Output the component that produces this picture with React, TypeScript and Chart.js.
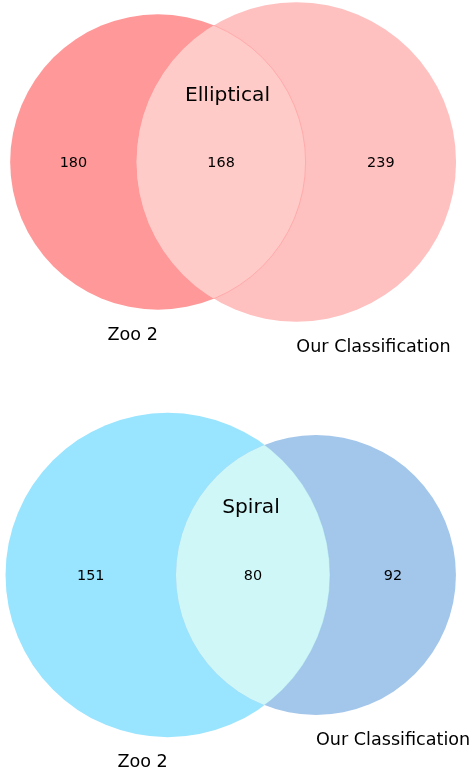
import { useEffect, useRef } from 'react';
import { Chart, registerables } from 'chart.js';

Chart.register(...registerables);

// ---- data ----
const diagramTitles = ['Elliptical', 'Spiral'];
const setLabels = ['Zoo 2', 'Our Classification'];
const zoo2Only = [180, 151];
const bothSets = [168, 80];
const oursOnly = [239, 92];

// ---- layout / style ----
const WIDTH = 469;
const HEIGHT = 771;
const PX_PER_UNIT = 340;
const ORIGINS = [
  [232.5 / PX_PER_UNIT, 162 / PX_PER_UNIT],
  [231 / PX_PER_UNIT, 575 / PX_PER_UNIT],
];
const TITLE_POS = [
  [227.5 / PX_PER_UNIT, 101 / PX_PER_UNIT],
  [251 / PX_PER_UNIT, 512.5 / PX_PER_UNIT],
];
const SET_LABEL_GAP = 30 / PX_PER_UNIT;
const COLORS = [
  { a: '#ff9999', b: '#ffc0c0', ab: '#ffcbc8', edge: 'rgba(255,150,150,0.55)' },
  { a: '#99e4ff', b: '#a3c6eb', ab: '#d0f7f7', edge: 'rgba(140,200,235,0.35)' },
];
const FONT = '"DejaVu Sans", "Liberation Sans", sans-serif';

function lensArea(r1: number, r2: number, d: number): number {
  if (d >= r1 + r2) return 0;
  if (d <= Math.abs(r1 - r2)) return Math.PI * Math.min(r1, r2) ** 2;
  const a1 = Math.acos((d * d + r1 * r1 - r2 * r2) / (2 * d * r1));
  const a2 = Math.acos((d * d + r2 * r2 - r1 * r1) / (2 * d * r2));
  const k = Math.sqrt((-d + r1 + r2) * (d + r1 - r2) * (d - r1 + r2) * (d + r1 + r2));
  return r1 * r1 * a1 + r2 * r2 * a2 - 0.5 * k;
}

function vennGeometry(i: number) {
  const total = zoo2Only[i] + bothSets[i] + oursOnly[i];
  const areaA = (zoo2Only[i] + bothSets[i]) / total;
  const areaB = (oursOnly[i] + bothSets[i]) / total;
  const areaAB = bothSets[i] / total;
  const rA = Math.sqrt(areaA / Math.PI);
  const rB = Math.sqrt(areaB / Math.PI);
  let lo = Math.abs(rA - rB);
  let hi = rA + rB;
  for (let k = 0; k < 80; k++) {
    const mid = (lo + hi) / 2;
    if (lensArea(rA, rB, mid) > areaAB) lo = mid;
    else hi = mid;
  }
  const d = (lo + hi) / 2;
  const wA = rA * rA;
  const wB = rB * rB;
  const [ox, oy] = ORIGINS[i];
  const xA = ox - (d * wB) / (wA + wB);
  const xB = ox + (d * wA) / (wA + wB);
  return { xA, xB, y: oy, rA, rB };
}

const vennPlugin = {
  id: 'venn',
  afterDatasetsDraw(chart: any) {
    const ctx: CanvasRenderingContext2D = chart.ctx;
    const sx = chart.scales.x;
    const sy = chart.scales.y;
    const px = (v: number) => sx.getPixelForValue(v);
    const py = (v: number) => sy.getPixelForValue(v);
    const len = (v: number) => Math.abs(sx.getPixelForValue(v) - sx.getPixelForValue(0));

    diagramTitles.forEach((title, i) => {
      const g = vennGeometry(i);
      const c = COLORS[i];
      const cAx = px(g.xA), cBx = px(g.xB), cy = py(g.y);
      const rA = len(g.rA), rB = len(g.rB);
      const circA = () => { ctx.beginPath(); ctx.arc(cAx, cy, rA, 0, Math.PI * 2); };
      const circB = () => { ctx.beginPath(); ctx.arc(cBx, cy, rB, 0, Math.PI * 2); };

      ctx.save();
      circA(); ctx.fillStyle = c.a; ctx.fill();
      circB(); ctx.fillStyle = c.b; ctx.fill();
      ctx.save();
      circA(); ctx.clip();
      circB(); ctx.fillStyle = c.ab; ctx.fill();
      ctx.restore();
      // faint edge of circle A inside B
      ctx.save();
      circB(); ctx.clip();
      circA(); ctx.strokeStyle = c.edge; ctx.lineWidth = 1; ctx.stroke();
      ctx.restore();
      ctx.restore();

      // region counts (matplotlib_venn positions)
      ctx.save();
      ctx.fillStyle = '#000';
      ctx.textAlign = 'center';
      ctx.textBaseline = 'alphabetic';
      const numSize = 14.4;
      ctx.font = `${numSize}px ${FONT}`;
      const base = cy + 0.3645 * numSize;
      const xa0 = g.xA - g.rA, xa1 = g.xA + g.rA;
      const xb0 = g.xB - g.rB, xb1 = g.xB + g.rB;
      ctx.fillText(String(zoo2Only[i]), px((xa0 + xb0) / 2), base);
      ctx.fillText(String(bothSets[i]), px((xb0 + xa1) / 2), base);
      ctx.fillText(String(oursOnly[i]), px((xa1 + xb1) / 2), base);

      // set labels
      ctx.font = `17.6px ${FONT}`;
      ctx.textAlign = 'right';
      ctx.fillText(setLabels[0], cAx, py(g.y + g.rA + SET_LABEL_GAP));
      ctx.textAlign = 'left';
      ctx.fillText(setLabels[1], cBx, py(g.y + g.rB + SET_LABEL_GAP));

      // title
      ctx.font = `20.2px ${FONT}`;
      ctx.textAlign = 'center';
      ctx.fillText(title, px(TITLE_POS[i][0]), py(TITLE_POS[i][1]));
      ctx.restore();
    });
  },
};

export default function App() {
  const canvasRef = useRef<HTMLCanvasElement | null>(null);

  useEffect(() => {
    if (!canvasRef.current) return;
    const chart = new Chart(canvasRef.current, {
      type: 'scatter',
      data: { datasets: [{ data: [], pointRadius: 0 }] },
      options: {
        animation: false,
        responsive: true,
        maintainAspectRatio: false,
        layout: { padding: 0 },
        plugins: { legend: { display: false }, title: { display: false }, tooltip: { enabled: false } },
        events: [],
        scales: {
          x: { type: 'linear', display: false, min: 0, max: WIDTH / PX_PER_UNIT },
          y: { type: 'linear', display: false, min: 0, max: HEIGHT / PX_PER_UNIT, reverse: true },
        },
      },
      plugins: [vennPlugin],
    });
    return () => chart.destroy();
  }, []);

  return (
    <div style={{ position: 'absolute', left: 0, top: 0, width: WIDTH, height: HEIGHT, background: '#fff' }}>
      <canvas ref={canvasRef} />
    </div>
  );
}
